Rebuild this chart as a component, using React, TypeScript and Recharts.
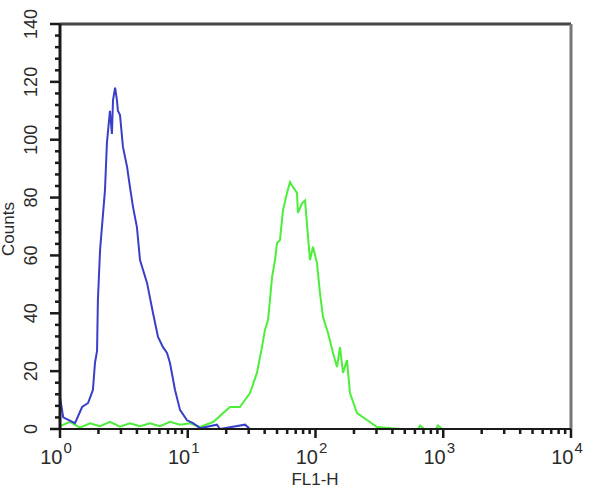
import React from 'react'
import { ComposedChart, Line, Scatter, XAxis, YAxis, ReferenceLine } from 'recharts'

// FL1-H channel values (log scale) and counts
const blueX = [1.0, 1.06, 1.31, 1.49, 1.66, 1.81, 1.88, 1.95, 1.98, 2.06, 2.25, 2.33, 2.46, 2.55, 2.6, 2.7, 2.79, 2.84, 2.95, 3.11, 3.35, 3.53, 3.73, 4.0, 4.23, 4.8, 5.35, 5.85, 6.4, 6.88, 7.26, 7.95, 8.7, 9.87, 11.0, 12.5, 16.9, 17.9, 28.1, 30.7, 320]
const blueCounts = [11, 4, 2, 7.6, 9, 13.5, 23, 27, 44.6, 62, 82.6, 99, 110, 102, 113.7, 118, 113.7, 110, 108.5, 97.5, 90.6, 83.6, 76.7, 69.8, 58.4, 50.5, 40, 31.8, 28.3, 26.3, 22.8, 13.5, 6.6, 3, 2, 0.3, 1.5, 0, 1.5, 0, 0]

const greenX = [1.0, 1.2, 1.43, 1.72, 2.06, 2.46, 2.95, 3.53, 4.23, 5.06, 6.06, 7.26, 8.7, 10.4, 12.5, 15.8, 21.4, 25.6, 30.7, 34.8, 38.1, 40.2, 42.5, 44.0, 45.7, 48.2, 50.0, 52.7, 55.7, 59.8, 63.2, 66.7, 71.6, 72.9, 78.4, 82.8, 87.4, 90.6, 95.6, 102.7, 108.4, 114.5, 125.3, 137.1, 147.3, 155.5, 164.2, 176.4, 186.2, 211.3, 253, 303, 458, 634, 658, 710, 877, 910, 980, 10000]
const greenCounts = [1, 2.5, 0.5, 2, 1, 2.5, 0.8, 2, 1, 2, 1, 2.5, 1.5, 2, 0.7, 2.4, 7.6, 7.6, 12.4, 19.4, 28.3, 34.2, 37.7, 44.6, 52.5, 58.4, 64.3, 65.3, 75.7, 81.6, 85.4, 83.6, 81.6, 74.7, 78, 79, 66.4, 58.4, 63, 57.4, 47, 38.7, 33.2, 26.3, 21.4, 28.3, 19.4, 23.8, 12.4, 5.5, 3.1, 0.7, 0, 0, 1.2, 0, 0, 1.2, 0, 0]

const xMajor = [1, 10, 100, 1000, 10000]
const xExponents = ['0', '1', '2', '3', '4']
const xTicks = [1, 2, 3, 4, 5, 6, 7, 8, 9, 10, 20, 30, 40, 50, 60, 70, 80, 90, 100, 200, 300, 400, 500, 600, 700, 800, 900, 1000, 2000, 3000, 4000, 5000, 6000, 7000, 8000, 9000, 10000]
const yTicks = [0, 4, 8, 12, 16, 20, 24, 28, 32, 36, 40, 44, 48, 52, 56, 60, 64, 68, 72, 76, 80, 84, 88, 92, 96, 100, 104, 108, 112, 116, 120, 124, 128, 132, 136, 140]
const yLabels = [0, 20, 40, 60, 80, 100, 120, 140]

const blueData = blueX.map((x, i) => ({ x, y: blueCounts[i] }))
const greenData = greenX.map((x, i) => ({ x, y: greenCounts[i] }))
// tick marks placed through the chart scales
const xTickMarks = xTicks.map((x) => ({ x, y: 0, major: xMajor.includes(x) }))
const yTickMarks = yTicks.map((y) => ({ x: 1, y, major: yLabels.includes(y) }))

const FONT = 'Arial, "Liberation Sans", sans-serif'
const TEXT = '#2a2a2a'
const AXIS = '#1a1a1a'

const XTickMark = ({ cx, cy, payload }: any) => (
  <rect x={cx - 1.25} y={cy} width={2.5} height={payload.major ? 9 : 5} fill={AXIS} />
)

const YTickMark = ({ cx, cy, payload }: any) => {
  const len = payload.major ? 10 : 5
  return <rect x={cx - len} y={cy - 1.25} width={len} height={2.5} fill={AXIS} />
}

const XTick = (props: any) => {
  const x = Number(props.x)
  const y = Number(props.y)
  const idx = xMajor.indexOf(props.payload.value)
  if (idx < 0) return <g />
  return (
    <text x={x - 4} y={y + 35} textAnchor="middle" fontFamily={FONT} fontSize={20} fill={TEXT}>
      10
      <tspan dx={1} dy={-11} fontSize={15}>{xExponents[idx]}</tspan>
    </text>
  )
}

const YTick = (props: any) => {
  const x = Number(props.x)
  const y = Number(props.y)
  if (!yLabels.includes(props.payload.value)) return <g />
  const cx = x - 29
  return (
    <text
      x={cx}
      y={y}
      transform={`rotate(-90 ${cx} ${y})`}
      textAnchor="middle"
      dominantBaseline="central"
      fontFamily={FONT}
      fontSize={18}
      fill={TEXT}
    >
      {props.payload.value}
    </text>
  )
}

export default function App() {
  return (
    <div style={{ position: 'absolute', left: 0, top: 0, width: 600, height: 492, background: '#fff' }}>
      <ComposedChart width={600} height={492} margin={{ top: 24, right: 29, left: 0, bottom: 0 }}>
        <XAxis
          dataKey="x"
          type="number"
          scale="log"
          domain={[1, 10000]}
          ticks={xTicks}
          interval={0}
          tickSize={0}
          tickMargin={0}
          height={63}
          tickLine={false}
          axisLine={{ stroke: AXIS, strokeWidth: 2 }}
          tick={<XTick />}
        />
        <YAxis
          type="number"
          domain={[0, 140]}
          ticks={yTicks}
          interval={0}
          width={60}
          tickSize={0}
          tickMargin={0}
          tickLine={false}
          axisLine={{ stroke: AXIS, strokeWidth: 3 }}
          tick={<YTick />}
        />
        <ReferenceLine y={140} stroke="#444" strokeWidth={3} />
        <ReferenceLine x={10000} stroke="#777" strokeWidth={3} />
        <Line data={greenData} dataKey="y" type="linear" stroke="#4dee3a" strokeWidth={2} dot={false} isAnimationActive={false} />
        <Line data={blueData} dataKey="y" type="linear" stroke="#3a3fc8" strokeWidth={2} dot={false} isAnimationActive={false} />
        <Scatter data={xTickMarks} dataKey="y" shape={<XTickMark />} isAnimationActive={false} />
        <Scatter data={yTickMarks} dataKey="y" shape={<YTickMark />} isAnimationActive={false} />
      </ComposedChart>
      <div
        style={{
          position: 'absolute',
          left: 8,
          top: 229,
          transform: 'translate(-50%, -50%) rotate(-90deg)',
          fontFamily: FONT,
          fontSize: 17,
          color: TEXT,
          whiteSpace: 'nowrap',
          lineHeight: 1,
        }}
      >
        Counts
      </div>
      <div
        style={{
          position: 'absolute',
          left: 315,
          top: 479,
          transform: 'translate(-50%, -50%)',
          fontFamily: FONT,
          fontSize: 17,
          color: TEXT,
          whiteSpace: 'nowrap',
          lineHeight: 1,
        }}
      >
        FL1-H
      </div>
    </div>
  )
}
